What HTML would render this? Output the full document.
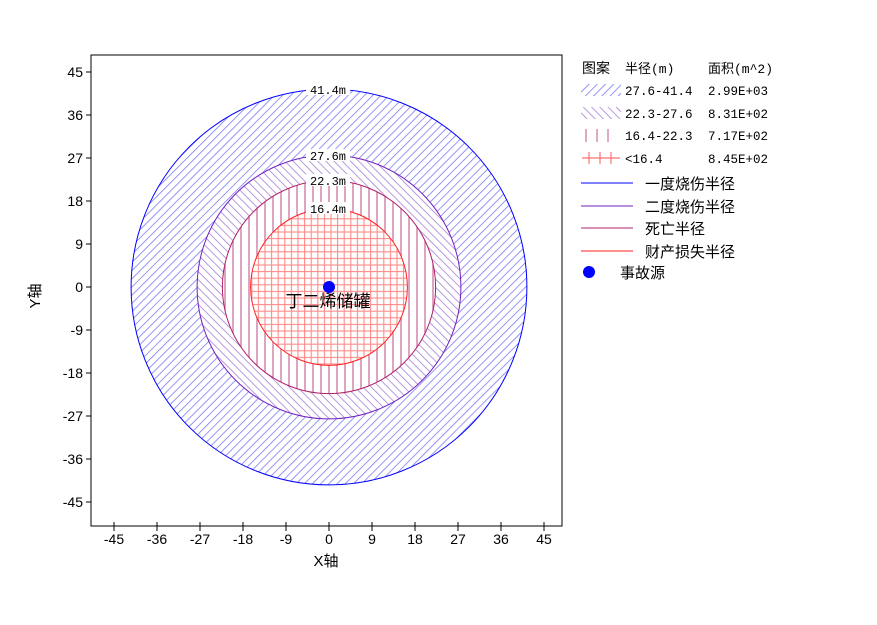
<!DOCTYPE html>
<html><head><meta charset="utf-8"><style>
body{margin:0;background:#fff;}
text{font-family:"Liberation Sans","Noto Sans CJK SC",sans-serif;}
.m{font-family:"Liberation Mono","Noto Sans CJK SC",monospace;}
</style></head><body>
<svg width="877" height="620" xmlns="http://www.w3.org/2000/svg">
<defs>
<pattern id="p1" width="5.8" height="8" patternUnits="userSpaceOnUse" patternTransform="rotate(45)">
<rect width="5.8" height="8" fill="#fff"/><line x1="0" y1="0" x2="0" y2="8" stroke="#7c7cf4" stroke-width="1.6"/></pattern>
<pattern id="p2" width="5.8" height="8" patternUnits="userSpaceOnUse" patternTransform="rotate(-45)">
<rect width="5.8" height="8" fill="#fff"/><line x1="0" y1="0" x2="0" y2="8" stroke="#a882d6" stroke-width="1.6"/></pattern>
<pattern id="p3" width="8" height="8" patternUnits="userSpaceOnUse">
<rect width="8" height="8" fill="#fff"/><line x1="1" y1="0" x2="1" y2="8" stroke="#d07ca8" stroke-width="1.4"/></pattern>
<pattern id="p4" width="6.6" height="6.6" patternUnits="userSpaceOnUse">
<rect width="6.6" height="6.6" fill="#fff"/><line x1="1" y1="0" x2="1" y2="6.6" stroke="#ff8a8a" stroke-width="1.1"/><line x1="0" y1="1" x2="6.6" y2="1" stroke="#ff8a8a" stroke-width="1.1"/></pattern>
</defs>
<rect x="91" y="55" width="471" height="471" fill="#fff" stroke="#000" stroke-width="1"/>
<g>
<circle cx="329" cy="287" r="197.9" fill="url(#p1)"/>
<circle cx="329" cy="287" r="131.9" fill="url(#p2)"/>
<circle cx="329" cy="287" r="106.6" fill="url(#p3)"/>
<circle cx="329" cy="287" r="78.4" fill="url(#p4)"/>
<circle cx="329" cy="287" r="197.9" fill="none" stroke="#0000ff" stroke-width="1"/>
<circle cx="329" cy="287" r="131.9" fill="none" stroke="#7020c0" stroke-width="1"/>
<circle cx="329" cy="287" r="106.6" fill="none" stroke="#b0206a" stroke-width="1"/>
<circle cx="329" cy="287" r="78.4" fill="none" stroke="#ff2020" stroke-width="1"/>
</g>
<g font-size="12" text-anchor="middle" class="m">
<rect x="306" y="83" width="44" height="12" fill="#fff"/><text class="m" x="328" y="94">41.4m</text>
<rect x="306" y="149" width="44" height="12" fill="#fff"/><text class="m" x="328" y="160">27.6m</text>
<rect x="306" y="174" width="44" height="12" fill="#fff"/><text class="m" x="328" y="185">22.3m</text>
<rect x="306" y="202" width="44" height="12" fill="#fff"/><text class="m" x="328" y="213">16.4m</text>
</g>
<circle cx="329" cy="287" r="6" fill="#0000ff"/>
<text x="328" y="307" font-size="17" text-anchor="middle">丁二烯储罐</text>
<g stroke="#000" stroke-width="1">
<line x1="114" y1="522" x2="114" y2="531"/><line x1="157" y1="522" x2="157" y2="531"/><line x1="200" y1="522" x2="200" y2="531"/><line x1="243" y1="522" x2="243" y2="531"/><line x1="286" y1="522" x2="286" y2="531"/><line x1="329" y1="522" x2="329" y2="531"/><line x1="372" y1="522" x2="372" y2="531"/><line x1="415" y1="522" x2="415" y2="531"/><line x1="458" y1="522" x2="458" y2="531"/><line x1="501" y1="522" x2="501" y2="531"/><line x1="544" y1="522" x2="544" y2="531"/>
<line x1="86" y1="72" x2="91" y2="72"/><line x1="86" y1="115" x2="91" y2="115"/><line x1="86" y1="158" x2="91" y2="158"/><line x1="86" y1="201" x2="91" y2="201"/><line x1="86" y1="244" x2="91" y2="244"/><line x1="86" y1="287" x2="91" y2="287"/><line x1="86" y1="330" x2="91" y2="330"/><line x1="86" y1="373" x2="91" y2="373"/><line x1="86" y1="416" x2="91" y2="416"/><line x1="86" y1="459" x2="91" y2="459"/><line x1="86" y1="502" x2="91" y2="502"/>
</g>
<g font-size="14" text-anchor="middle">
<text x="114" y="544">-45</text><text x="157" y="544">-36</text><text x="200" y="544">-27</text><text x="243" y="544">-18</text><text x="286" y="544">-9</text><text x="329" y="544">0</text><text x="372" y="544">9</text><text x="415" y="544">18</text><text x="458" y="544">27</text><text x="501" y="544">36</text><text x="544" y="544">45</text>
</g>
<g font-size="14" text-anchor="end">
<text x="83" y="77">45</text><text x="83" y="120">36</text><text x="83" y="163">27</text><text x="83" y="206">18</text><text x="83" y="249">9</text><text x="83" y="292">0</text><text x="83" y="335">-9</text><text x="83" y="378">-18</text><text x="83" y="421">-27</text><text x="83" y="464">-36</text><text x="83" y="507">-45</text>
</g>
<text x="326" y="566" font-size="15" text-anchor="middle">X轴</text>
<text x="40" y="296" font-size="15" text-anchor="middle" transform="rotate(-90 40 296)">Y轴</text>
<g font-size="13">
<text x="582" y="73" font-size="14">图案</text><text class="m" x="625" y="73" font-size="13">半径(m)</text><text class="m" x="708" y="73" font-size="13">面积(m^2)</text>
<rect x="581" y="84" width="40" height="12" fill="url(#p1)"/>
<text class="m" x="625" y="95" font-size="12.5">27.6-41.4</text><text class="m" x="708" y="95" font-size="12.5">2.99E+03</text>
<rect x="581" y="107" width="40" height="12" fill="url(#p2)"/>
<text class="m" x="625" y="118" font-size="12.5">22.3-27.6</text><text class="m" x="708" y="118" font-size="12.5">8.31E+02</text>
<g stroke="#d07ca8" stroke-width="1.3"><line x1="586" y1="129" x2="586" y2="142"/><line x1="597" y1="129" x2="597" y2="142"/><line x1="608" y1="129" x2="608" y2="142"/></g>
<text class="m" x="625" y="140" font-size="12.5">16.4-22.3</text><text class="m" x="708" y="140" font-size="12.5">7.17E+02</text>
<g stroke="#ff7070" stroke-width="1.2"><line x1="582" y1="158" x2="620" y2="158"/><line x1="589" y1="152" x2="589" y2="164"/><line x1="600" y1="152" x2="600" y2="164"/><line x1="611" y1="152" x2="611" y2="164"/></g>
<text class="m" x="625" y="163" font-size="12.5">&lt;16.4</text><text class="m" x="708" y="163" font-size="12.5">8.45E+02</text>
<line x1="581" y1="183" x2="633" y2="183" stroke="#0000ff"/><text x="645" y="189" font-size="15">一度烧伤半径</text>
<line x1="581" y1="206" x2="633" y2="206" stroke="#7020c0"/><text x="645" y="212" font-size="15">二度烧伤半径</text>
<line x1="581" y1="228" x2="633" y2="228" stroke="#b0206a"/><text x="645" y="234" font-size="15">死亡半径</text>
<line x1="581" y1="251" x2="633" y2="251" stroke="#ff2020"/><text x="645" y="257" font-size="15">财产损失半径</text>
<circle cx="589" cy="272" r="6" fill="#0000ff"/><text x="620" y="278" font-size="15">事故源</text>
</g>
</svg>
</body></html>
